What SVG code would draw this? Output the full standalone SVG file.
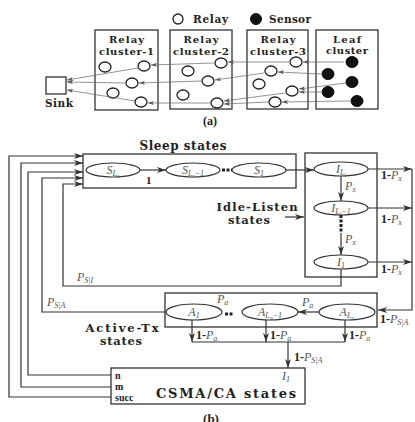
<svg xmlns="http://www.w3.org/2000/svg" width="415" height="422" viewBox="0 0 415 422">
<style>
.lb{font-family:"DejaVu Serif","Liberation Serif",serif;font-weight:bold;fill:#222}
.m{font-family:"Liberation Serif",serif;font-style:italic;fill:#555;font-size:12px}
.b{font-family:"Liberation Serif",serif;font-style:normal;font-weight:bold;fill:#222}
.s1{font-size:8px}
.s2{font-size:6px}
.box{fill:none;stroke:#333;stroke-width:1.3}
.rc{fill:#fff;stroke:#222;stroke-width:1.3}
.sc{fill:#111;stroke:#111;stroke-width:1}
.la{fill:none;stroke:#666;stroke-width:0.7}
.ell{fill:#fff;stroke:#333;stroke-width:1.2}
.ln{fill:none;stroke:#333;stroke-width:1.2}
</style>
<defs>
<marker id="ma" markerUnits="userSpaceOnUse" markerWidth="6" markerHeight="4" refX="6" refY="2" orient="auto"><path d="M0,0 L6,2 L0,4 L1.5,2 z" fill="#555"/></marker>
<marker id="mb" markerUnits="userSpaceOnUse" markerWidth="9" markerHeight="6" refX="9" refY="3" orient="auto"><path d="M0,0 L9,3 L0,6 L2.5,3 z" fill="#333"/></marker>
</defs>

<!-- Part (a) -->
<g id="legend">
<circle class="rc" cx="178" cy="19" r="5"/>
<text class="lb" x="193" y="23" font-size="10.5" textLength="35">Relay</text>
<circle class="sc" cx="256" cy="19" r="5.5"/>
<text class="lb" x="269" y="23" font-size="10.5" textLength="42">Sensor</text>
</g>
<g id="sink">
<rect class="box" x="46" y="77" width="20" height="17"/>
<text class="lb" x="45" y="107" font-size="10.5" textLength="28">Sink</text>
</g>
<g id="relay-cluster-1">
<rect class="box" x="95" y="30" width="63" height="80"/>
<text class="lb" x="126.5" y="42.5" font-size="10" text-anchor="middle" textLength="35">Relay</text>
<text class="lb" x="126.5" y="54.5" font-size="10" text-anchor="middle" textLength="55">cluster-1</text>
<ellipse class="rc" cx="105" cy="67" rx="6" ry="5"/>
<ellipse class="rc" cx="144" cy="66" rx="6" ry="5"/>
<ellipse class="rc" cx="132" cy="83" rx="6" ry="5"/>
<ellipse class="rc" cx="113" cy="93" rx="6" ry="5"/>
<ellipse class="rc" cx="141" cy="102" rx="6" ry="5"/>
</g>
<g id="relay-cluster-2">
<rect class="box" x="170" y="30" width="62" height="79"/>
<text class="lb" x="201" y="42.5" font-size="10" text-anchor="middle" textLength="35">Relay</text>
<text class="lb" x="201" y="54.5" font-size="10" text-anchor="middle" textLength="56">cluster-2</text>
<ellipse class="rc" cx="221" cy="63" rx="6" ry="5"/>
<ellipse class="rc" cx="188" cy="71" rx="6" ry="5"/>
<ellipse class="rc" cx="208" cy="81" rx="6" ry="5"/>
<ellipse class="rc" cx="183" cy="95" rx="6" ry="5"/>
<ellipse class="rc" cx="217" cy="103" rx="6" ry="5"/>
</g>
<g id="relay-cluster-3">
<rect class="box" x="247" y="30" width="61" height="79"/>
<text class="lb" x="278" y="42.5" font-size="10" text-anchor="middle" textLength="35">Relay</text>
<text class="lb" x="278" y="54.5" font-size="10" text-anchor="middle" textLength="56">cluster-3</text>
<ellipse class="rc" cx="296" cy="62" rx="6" ry="5"/>
<ellipse class="rc" cx="271" cy="71" rx="6" ry="5"/>
<ellipse class="rc" cx="259" cy="84" rx="6" ry="5"/>
<ellipse class="rc" cx="292" cy="91" rx="6" ry="5"/>
<ellipse class="rc" cx="275" cy="102" rx="6" ry="5"/>
</g>
<g id="leaf-cluster">
<rect class="box" x="316" y="30" width="62" height="79"/>
<text class="lb" x="347" y="42.5" font-size="10" text-anchor="middle" textLength="28">Leaf</text>
<text class="lb" x="347" y="54" font-size="10" text-anchor="middle" textLength="42">cluster</text>
<ellipse class="sc" cx="352" cy="62" rx="6" ry="5.5"/>
<ellipse class="sc" cx="328" cy="74" rx="6" ry="5.5"/>
<ellipse class="sc" cx="352" cy="82" rx="6" ry="5.5"/>
<ellipse class="sc" cx="328" cy="92" rx="6" ry="5.5"/>
<ellipse class="sc" cx="357" cy="101" rx="6" ry="5.5"/>
</g>
<g id="connectors-a">
<line class="la" x1="344" y1="62" x2="303" y2="62" marker-end="url(#ma)"/>
<line class="la" x1="289" y1="62" x2="228" y2="62" marker-end="url(#ma)"/>
<line class="la" x1="214" y1="63" x2="151" y2="65" marker-end="url(#ma)"/>
<line class="la" x1="138" y1="68" x2="67" y2="80" marker-end="url(#ma)"/>
<line class="la" x1="321" y1="74" x2="278" y2="72" marker-end="url(#ma)"/>
<line class="la" x1="264" y1="73" x2="215" y2="80" marker-end="url(#ma)"/>
<line class="la" x1="201" y1="81" x2="139" y2="83" marker-end="url(#ma)"/>
<line class="la" x1="125" y1="83" x2="67" y2="82" marker-end="url(#ma)"/>
<line class="la" x1="346" y1="83" x2="299" y2="89" marker-end="url(#ma)"/>
<line class="la" x1="321" y1="92" x2="299" y2="92" marker-end="url(#ma)"/>
<line class="la" x1="285" y1="93" x2="224" y2="101" marker-end="url(#ma)"/>
<line class="la" x1="268" y1="102" x2="224" y2="104" marker-end="url(#ma)"/>
<line class="la" x1="350" y1="101" x2="282" y2="102" marker-end="url(#ma)"/>
<line class="la" x1="210" y1="103" x2="148" y2="103" marker-end="url(#ma)"/>
<line class="la" x1="135" y1="101" x2="67" y2="90" marker-end="url(#ma)"/>
</g>
<text class="b" x="210" y="125" font-size="12" text-anchor="middle" font-weight="normal">(a)</text>

<!-- Part (b) -->
<g id="sleep-states">
<rect class="box" x="83" y="154" width="213" height="34"/>
<text class="lb" x="183" y="150" font-size="12" text-anchor="middle" textLength="87">Sleep states</text>
<ellipse class="ell" cx="113" cy="170" rx="27" ry="7"/>
<text class="m" x="113" y="174" text-anchor="middle">S<tspan class="s1" dy="2">L</tspan><tspan class="s2" dy="1.5">s</tspan></text>
<ellipse class="ell" cx="193" cy="170" rx="27" ry="7"/>
<text class="m" x="193" y="174" text-anchor="middle">S<tspan class="s1" dy="2">L</tspan><tspan class="s2" dy="1.5">s</tspan><tspan class="s1" dy="-1.5">−1</tspan></text>
<ellipse class="ell" cx="259" cy="170" rx="27" ry="7"/>
<text class="m" x="259" y="174" text-anchor="middle">S<tspan class="s1" dy="2">1</tspan></text>
<line x1="222" y1="170" x2="232" y2="170" stroke="#222" stroke-width="3" stroke-dasharray="3,1.5"/>
</g>
<g id="idle-listen-states">
<rect class="box" x="305" y="153" width="72" height="124"/>
<text class="lb" x="257" y="211" font-size="11.5" text-anchor="middle" textLength="81">Idle-Listen</text>
<text class="lb" x="249" y="224" font-size="11.5" text-anchor="middle" textLength="42">states</text>
<ellipse class="ell" cx="341" cy="169" rx="27" ry="7"/>
<text class="m" x="341" y="173" text-anchor="middle">I<tspan class="s1" dy="2">L</tspan><tspan class="s2" dy="1.5">i</tspan></text>
<ellipse class="ell" cx="341" cy="208" rx="27" ry="7"/>
<text class="m" x="341" y="212" text-anchor="middle">I<tspan class="s1" dy="2">L</tspan><tspan class="s2" dy="1.5">i</tspan><tspan class="s1" dy="-1.5">−1</tspan></text>
<ellipse class="ell" cx="341" cy="262" rx="27" ry="7"/>
<text class="m" x="341" y="266" text-anchor="middle">I<tspan class="s1" dy="2">1</tspan></text>
<line x1="341" y1="215" x2="341" y2="233" stroke="#222" stroke-width="3" stroke-dasharray="3,1.5"/>
</g>
<g id="active-tx-states">
<rect class="box" x="165" y="293" width="212" height="34"/>
<text class="lb" x="122" y="332" font-size="11.5" text-anchor="middle" textLength="73">Active-Tx</text>
<text class="lb" x="121" y="345" font-size="11.5" text-anchor="middle" textLength="42">states</text>
<ellipse class="ell" cx="194" cy="312" rx="28" ry="8"/>
<text class="m" x="194" y="316" text-anchor="middle">A<tspan class="s1" dy="2">1</tspan></text>
<ellipse class="ell" cx="270" cy="312" rx="28" ry="8"/>
<text class="m" x="270" y="316" text-anchor="middle">A<tspan class="s1" dy="2">L</tspan><tspan class="s2" dy="1.5">a</tspan><tspan class="s1" dy="-1.5">−1</tspan></text>
<ellipse class="ell" cx="347" cy="312" rx="28" ry="8"/>
<text class="m" x="347" y="316" text-anchor="middle">A<tspan class="s1" dy="2">L</tspan><tspan class="s2" dy="1.5">a</tspan></text>
<line x1="225" y1="314" x2="233" y2="314" stroke="#222" stroke-width="3" stroke-dasharray="3,1.5"/>
</g>
<g id="csma-ca-states">
<rect class="box" x="111" y="368" width="194" height="36"/>
<text class="b" x="115" y="379" font-size="10" font-style="italic">n</text>
<text class="b" x="115" y="390" font-size="10" font-style="italic">m</text>
<text class="b" x="115" y="401" font-size="10" font-style="italic">succ</text>
<text class="lb" x="226" y="398" font-size="13" text-anchor="middle" textLength="140">CSMA/CA states</text>
<text class="m" x="282" y="380">I<tspan class="s1" dy="1.5">1</tspan></text>
</g>

<g id="connectors-b">
<line class="ln" x1="140" y1="170" x2="166" y2="170" marker-end="url(#mb)"/>
<line class="ln" x1="286" y1="170" x2="314" y2="170" marker-end="url(#mb)"/>
<line class="ln" x1="341" y1="176" x2="341" y2="201" marker-end="url(#mb)"/>
<line class="ln" x1="341" y1="233" x2="341" y2="255" marker-end="url(#mb)"/>
<line class="ln" x1="285" y1="217" x2="304" y2="217" marker-end="url(#mb)"/>
<line class="ln" x1="368" y1="169" x2="412" y2="169" marker-end="url(#mb)"/>
<line class="ln" x1="368" y1="208" x2="412" y2="208" marker-end="url(#mb)"/>
<line class="ln" x1="368" y1="262" x2="412" y2="262" marker-end="url(#mb)"/>
<path class="ln" d="M412,169 V310 H378" marker-end="url(#mb)"/>
<path class="ln" d="M341,269 V286 H63 V184 H83" marker-end="url(#mb)"/>
<path class="ln" d="M166,312 H42 V178 H83" marker-end="url(#mb)"/>
<path class="ln" d="M111,375 H28 V172 H83" marker-end="url(#mb)"/>
<path class="ln" d="M111,387 H21 V163 H83" marker-end="url(#mb)"/>
<path class="ln" d="M111,397 H9 V156 H83" marker-end="url(#mb)"/>
<line class="ln" x1="319" y1="312" x2="298" y2="312" marker-end="url(#mb)"/>
<line class="ln" x1="192" y1="320" x2="192" y2="342" marker-end="url(#mb)"/>
<line class="ln" x1="266" y1="320" x2="266" y2="342" marker-end="url(#mb)"/>
<line class="ln" x1="345" y1="320" x2="345" y2="342" marker-end="url(#mb)"/>
<line class="ln" x1="192" y1="342" x2="345" y2="342"/>
<line class="ln" x1="288" y1="342" x2="288" y2="368" marker-end="url(#mb)"/>
</g>

<g id="edge-labels">
<text class="b" x="146" y="184" font-size="11">1</text>
<text class="m" x="345" y="190">P<tspan class="s1" dy="2">x</tspan></text>
<text class="m" x="345" y="243">P<tspan class="s1" dy="2">x</tspan></text>
<text class="m" x="381" y="179"><tspan class="b">1-</tspan>P<tspan class="s1" dy="2">x</tspan></text>
<text class="m" x="381" y="223"><tspan class="b">1-</tspan>P<tspan class="s1" dy="2">x</tspan></text>
<text class="m" x="381" y="273"><tspan class="b">1-</tspan>P<tspan class="s1" dy="2">x</tspan></text>
<text class="m" x="380" y="323"><tspan class="b">1-</tspan>P<tspan class="s1" dy="2">S|A</tspan></text>
<text class="m" x="77" y="281">P<tspan class="s1" dy="2">S|I</tspan></text>
<text class="m" x="47" y="306">P<tspan class="s1" dy="2">S|A</tspan></text>
<text class="m" x="217" y="303">P<tspan class="s1" dy="2">a</tspan></text>
<text class="m" x="302" y="306">P<tspan class="s1" dy="2">a</tspan></text>
<text class="m" x="196" y="339"><tspan class="b">1-</tspan>P<tspan class="s1" dy="2">a</tspan></text>
<text class="m" x="270" y="339"><tspan class="b">1-</tspan>P<tspan class="s1" dy="2">a</tspan></text>
<text class="m" x="349" y="339"><tspan class="b">1-</tspan>P<tspan class="s1" dy="2">a</tspan></text>
<text class="m" x="294" y="361"><tspan class="b">1-</tspan>P<tspan class="s1" dy="2">S|A</tspan></text>
</g>
<text class="b" x="211" y="423" font-size="13" text-anchor="middle" font-weight="normal">(b)</text>
</svg>
